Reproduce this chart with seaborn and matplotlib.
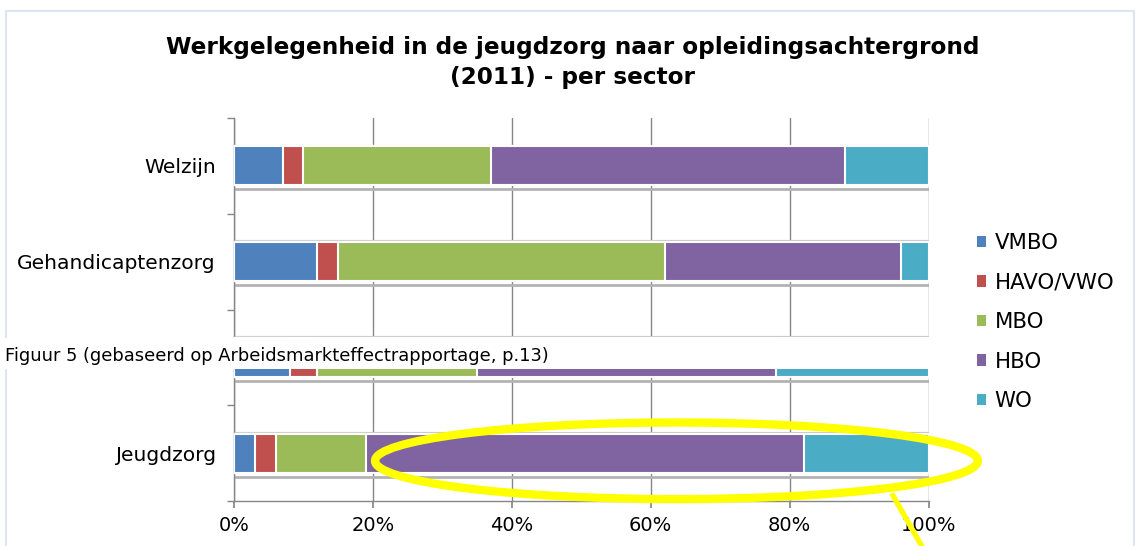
import matplotlib
matplotlib.use("Agg")
import matplotlib.pyplot as plt
import numpy as np
import pandas as pd
import seaborn as sns
from matplotlib.patches import Ellipse, Patch, Rectangle
from matplotlib.ticker import FixedLocator, PercentFormatter

sns.set_theme(style="white")
plt.rcParams["font.family"] = ["DejaVu Sans"]
plt.rcParams["text.color"] = "black"

# Data (percent per sector)
sectors = ["Welzijn", "Gehandicaptenzorg", "GGZ", "Jeugdzorg"]
levels = ["VMBO", "HAVO/VWO", "MBO", "HBO", "WO"]
vmbo = [7, 12, 8, 3]
havo_vwo = [3, 3, 4, 3]
mbo = [27, 47, 23, 13]
hbo = [51, 34, 43, 63]
wo = [12, 4, 22, 18]
colors = ["#4F81BD", "#C0504D", "#9BBB59", "#8064A2", "#4BACC6"]

df = pd.DataFrame(
    {"Sector": sectors, "VMBO": vmbo, "HAVO/VWO": havo_vwo, "MBO": mbo, "HBO": hbo, "WO": wo}
)
cum = df[levels].cumsum(axis=1)
cum["Sector"] = df["Sector"]

fig = plt.figure(figsize=(11.4, 5.46), dpi=100)
ax = fig.add_axes([0.2053, 0.0824, 0.6092, 0.7015])

# Stacked bars: draw cumulative totals from the back to the front
for level, color in reversed(list(zip(levels, colors))):
    sns.barplot(
        data=cum, x=level, y="Sector", orient="h", color=color, saturation=1,
        width=0.41, edgecolor="white", linewidth=1.5, ax=ax, zorder=3,
    )

# faint data-label remnants under / above each bar
for i in range(len(sectors)):
    ax.hlines(i + 0.245, 0, 100, color="#b3b3b3", lw=2, zorder=2)
    ax.hlines(i - 0.222, 0, 100, color="#c8c8c8", lw=0.8, zorder=2)

ax.set_xlim(0, 100)
ax.set_ylim(3.5, -0.5)
ax.xaxis.set_major_locator(FixedLocator([0, 20, 40, 60, 80, 100]))
ax.xaxis.set_major_formatter(PercentFormatter(decimals=0))
ax.grid(axis="x", color="#868686", lw=1)
ax.set_axisbelow(True)
ax.set_xlabel("")
ax.set_ylabel("")

for side in ["top", "right"]:
    ax.spines[side].set_visible(False)
for side in ["left", "bottom"]:
    ax.spines[side].set_color("#868686")
    ax.spines[side].set_linewidth(1)

ax.tick_params(axis="x", direction="out", length=5, color="#868686", pad=6,
               labelsize=14, labelcolor="black", bottom=True)
ax.tick_params(axis="y", which="major", length=0, pad=13, labelsize=14.6, labelcolor="black")
ax.yaxis.set_minor_locator(FixedLocator(np.arange(-0.5, len(sectors), 1.0)))
ax.tick_params(axis="y", which="minor", direction="out", length=5, color="#868686", left=True)
# the third sector's label sits under the caption box in the original
ax.get_yticklabels()[2].set_visible(False)

# Title
fig.text(0.502, 0.886, "Werkgelegenheid in de jeugdzorg naar opleidingsachtergrond\n(2011) - per sector",
         ha="center", va="center", fontsize=16.7, fontweight="bold", linespacing=1.4)

# Legend
handles = [Patch(facecolor=c, edgecolor="none", label=l) for l, c in zip(levels, colors)]
fig.legend(handles=handles, loc="center left", bbox_to_anchor=(0.84, 0.41), frameon=False,
           fontsize=15.3, handlelength=0.45, handleheight=0.45, handletextpad=0.4,
           labelspacing=0.92)

# Caption box that covers part of the chart
fig.patches.append(Rectangle((0, 0.3242), 0.815, 0.0568, transform=fig.transFigure,
                             facecolor="white", edgecolor="none", zorder=20))
fig.text(0.004, 0.348, "Figuur 5 (gebaseerd op Arbeidsmarkteffectrapportage, p.13)",
         ha="left", va="center", fontsize=12.9, zorder=21)

# Yellow highlight
ax.add_patch(Ellipse((63.7, 3.08), 86.8, 0.80, fill=False, edgecolor="#FFFF00", lw=6,
                     zorder=10, clip_on=False))
ax.plot([94.7, 100.2], [3.42, 4.12], color="#FFFF00", lw=3.8, zorder=10, clip_on=False,
        solid_capstyle="butt")

# outer chart frame
fig.patches.append(Rectangle((0.005, -0.05), 0.99, 1.03, transform=fig.transFigure,
                             fill=False, edgecolor="#dce6f2", lw=1.5, zorder=0))

fig.savefig("out.png", dpi=100)
